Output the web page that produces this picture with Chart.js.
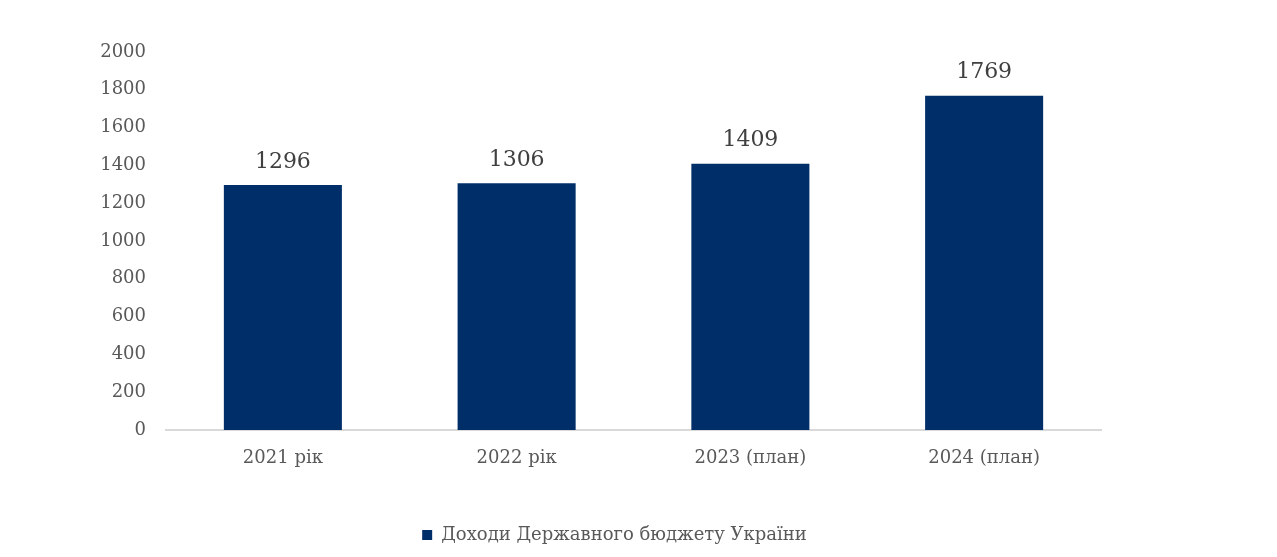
<!DOCTYPE html>
<html>
<head>
<meta charset="utf-8">
<script src="https://cdn.jsdelivr.net/npm/chart.js@4"></script>
<style>
  html, body { margin: 0; padding: 0; background: #fff; }
  #wrap { width: 1277px; height: 557px; }
</style>
</head>
<body>
<div id="wrap"><canvas id="myChart"></canvas></div>
<script>
'use strict';

//========== Data ==========
let years = ['2021 рік', '2022 рік', '2023 (план)', '2024 (план)'];
let revenues = [1296, 1306, 1409, 1769];
let seriesName = 'Доходи Державного бюджету України';

let serif = '"DejaVu Serif", "Liberation Serif", serif';

// labels above each bar
let valueLabels = {
  id: 'valueLabels',
  afterDatasetsDraw(chart) {
    let ctx = chart.ctx;
    let meta = chart.getDatasetMeta(0);
    ctx.save();
    ctx.font = '22px ' + serif;
    ctx.fillStyle = '#404040';
    ctx.textAlign = 'center';
    ctx.textBaseline = 'bottom';
    meta.data.forEach((bar, i) => {
      ctx.fillText(revenues[i], bar.x, bar.y - 12);
    });
    ctx.restore();
  }
};

let ctx = document.getElementById('myChart').getContext('2d');
let myChart = new Chart(ctx, {
  type: 'bar',
  data: {
    labels: years,
    datasets: [{
      label: seriesName,
      data: revenues,
      backgroundColor: '#002E69',
      barPercentage: 0.505,
      categoryPercentage: 1
    }]
  },
  options: {
    responsive: true,
    maintainAspectRatio: false,
    animation: false,
    layout: { padding: { top: 52, right: 48, left: 0, bottom: 3 } },
    plugins: {
      tooltip: { enabled: false },
      legend: {
        position: 'bottom',
        labels: {
          boxWidth: 10,
          boxHeight: 10,
          color: '#595959',
          font: { family: serif, size: 18 },
          padding: 20
        }
      }
    },
    scales: {
      x: {
        grid: { display: false, drawTicks: false },
        border: { color: '#D9D9D9', width: 2 },
        ticks: { color: '#595959', font: { family: serif, size: 18 }, padding: 18 },
        afterFit: s => { s.height = 76; }
      },
      y: {
        min: 0,
        max: 2000,
        grid: { display: false, drawTicks: false },
        border: { display: false },
        ticks: {
          stepSize: 200,
          color: '#595959',
          font: { family: serif, size: 18 },
          padding: 20,
          callback: v => String(v)
        },
        afterFit: s => { s.width = 166; }
      },
      // empty right gutter so the legend sits where it does in the original
      gutter: {
        position: 'right',
        min: 0,
        max: 2000,
        grid: { display: false, drawTicks: false },
        border: { display: false },
        ticks: { display: false },
        afterFit: s => { s.width = 128; }
      }
    }
  },
  plugins: [valueLabels]
});
</script>
</body>
</html>
